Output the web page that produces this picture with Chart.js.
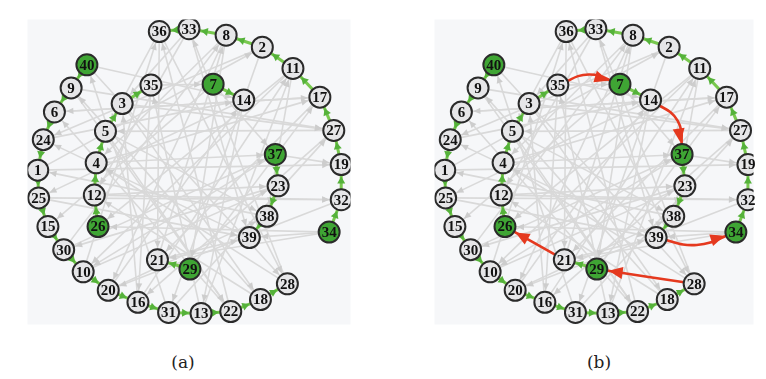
<!DOCTYPE html>
<html>
<head>
<meta charset="utf-8">
<script src="https://cdn.jsdelivr.net/npm/chart.js@4.4.1/dist/chart.umd.min.js"></script>
<style>
  html, body { margin: 0; padding: 0; background: #ffffff; }
  body { width: 766px; height: 379px; position: relative; overflow: hidden; }
  .panel { position: absolute; top: 7px; }
  .cap { position: absolute; top: 352px; font-family: "DejaVu Serif", "Liberation Serif", serif; font-size: 17px; color: #222; width: 60px; text-align: center; }
</style>
</head>
<body>
<div class="panel" style="left:15px;width:348px;height:330px"><canvas id="ga" width="348" height="330"></canvas></div>
<div class="panel" style="left:422px;width:344px;height:330px"><canvas id="gb" width="344" height="330"></canvas></div>
<div class="cap" style="left:153px">(a)</div>
<div class="cap" style="left:569px">(b)</div>
<script>
// Graph nodes and their layout positions
const nodeIds = [36, 33, 8, 2, 11, 17, 27, 19, 32, 34,
                 40, 9, 6, 24, 1, 25, 15, 30, 10, 20, 16, 31, 13, 22, 18, 28,
                 35, 3, 5, 4, 12, 26,
                 7, 14, 37, 23, 38, 39,
                 21, 29];
const nodeX = [157, 189, 229, 268, 301, 330, 345, 353, 353, 340,
               79, 62, 44, 32, 26, 27, 37, 54, 75, 102, 134, 167, 202, 234, 266, 295,
               148, 117, 99, 89, 87, 91,
               215, 248, 282, 285, 273, 254,
               155, 190];
const nodeY = [20, 17, 24, 37, 60, 91, 127, 164, 202, 237,
               56, 81, 107, 137, 170, 200, 231, 256, 280, 300, 313, 324, 325, 323, 310, 293,
               78, 98, 128, 162, 197, 231,
               77, 94, 153, 187, 220, 243,
               267, 277];

// Path heads (highlighted)
const sourceNodes = [40, 7, 37, 26, 29, 34];

// Directed paths of the cover
const coverPaths = [
  [40, 9, 6, 24, 1, 25, 15, 30, 10, 20, 16, 31, 13, 22, 18, 28],
  [26, 12, 4, 5, 3, 35],
  [7, 14],
  [37, 23, 38, 39],
  [29, 21],
  [34, 32, 19, 27, 17, 11, 2, 8, 33, 36]
];

// Remaining directed edges of the graph
const otherEdges = [
  [1, 19], [37, 19], [4, 37], [25, 32], [12, 23], [34, 39], [34, 26], [35, 7], [7, 37], [11, 26],
  [36, 5], [36, 21], [36, 28], [33, 12], [33, 39], [33, 3], [8, 4], [8, 29], [8, 20],
  [2, 31], [2, 24], [11, 38], [11, 10], [17, 21], [17, 6], [27, 5], [27, 16], [32, 20],
  [40, 14], [40, 28], [9, 27], [9, 22], [6, 17], [24, 14], [1, 2], [25, 39], [30, 37], [30, 8],
  [10, 23], [10, 36], [20, 14], [16, 11], [16, 3], [31, 40], [13, 35], [22, 36], [22, 6],
  [18, 12], [28, 4], [28, 33], [3, 18], [3, 27], [5, 22], [14, 25], [14, 13], [23, 30],
  [38, 1], [39, 24], [21, 8], [29, 17], [35, 16], [12, 32], [37, 10], [7, 15], [4, 17],
  [5, 38], [31, 27], [13, 11], [20, 38], [18, 9], [21, 39], [34, 21]
];

// Edges joining the paths into one cycle, with arc bend
const joinEdges = [[35, 7, -11], [14, 37, -14], [39, 34, 11], [28, 29, 0], [21, 26, 0]];

const NODE_R = 10.5;
const COLORS = {
  bg: '#f6f7f9',
  edge: '#d9d9d9',
  edgeHead: '#cdcdcd',
  path: '#78c84e',
  pathHead: '#55b23a',
  join: '#e5391f',
  nodeFill: '#e6e6e8',
  nodeSource: '#3fa534',
  nodeStroke: '#2b2b2b',
  label: '#111111'
};

function pos(id) {
  const i = nodeIds.indexOf(id);
  return { x: nodeX[i], y: nodeY[i] };
}

function buildChart(canvasId, xMin, xMax, withJoins) {
  const datasets = [];
  const heads = []; // arrowheads: [fromPoint, toPoint, color, len, half]

  datasets.push({
    label: 'nodes',
    data: nodeIds.map(id => pos(id)),
    pointRadius: NODE_R,
    pointBorderWidth: 2,
    pointBackgroundColor: nodeIds.map(id => sourceNodes.includes(id) ? COLORS.nodeSource : COLORS.nodeFill),
    pointBorderColor: COLORS.nodeStroke,
    showLine: false,
    order: 0
  });

  otherEdges.forEach(([a, b]) => {
    datasets.push({
      data: [pos(a), pos(b)], showLine: true, borderColor: COLORS.edge, borderWidth: 1.6,
      pointRadius: 0, order: 3
    });
    heads.push([pos(a), pos(b), COLORS.edgeHead, 7, 3.2]);
  });

  coverPaths.forEach(path => {
    for (let k = 0; k < path.length - 1; k++) {
      const a = path[k], b = path[k + 1];
      datasets.push({
        data: [pos(a), pos(b)], showLine: true, borderColor: COLORS.path, borderWidth: 3,
        pointRadius: 0, order: 2
      });
      heads.push([pos(a), pos(b), COLORS.pathHead, 7, 4]);
    }
  });

  if (withJoins) {
    joinEdges.forEach(([a, b, bend]) => {
      const s = pos(a), e = pos(b);
      const dx = e.x - s.x, dy = e.y - s.y, L = Math.hypot(dx, dy);
      const mid = { x: (s.x + e.x) / 2 - dy / L * bend, y: (s.y + e.y) / 2 + dx / L * bend };
      const pts = bend === 0 ? [s, e] : [s, mid, e];
      datasets.push({
        data: pts, showLine: true, borderColor: COLORS.join, borderWidth: 2.6,
        pointRadius: 0, tension: 0.45, order: 1
      });
      heads.push([bend === 0 ? s : mid, e, COLORS.join, 14, 6]);
    });
  }

  const graphPlugin = {
    id: 'graphDecor',
    beforeDraw(chart) {
      const { ctx, chartArea: ca } = chart;
      ctx.save();
      ctx.fillStyle = COLORS.bg;
      ctx.fillRect(ca.left, ca.top, ca.right - ca.left, ca.bottom - ca.top);
      ctx.restore();
    },
    beforeDatasetDraw(chart, args) {
      if (args.index !== 0) return;
      const { ctx, scales } = chart;
      ctx.save();
      heads.forEach(([from, to, color, len, half]) => {
        const fx = scales.x.getPixelForValue(from.x), fy = scales.y.getPixelForValue(from.y);
        const tx = scales.x.getPixelForValue(to.x), ty = scales.y.getPixelForValue(to.y);
        const d = Math.hypot(tx - fx, ty - fy);
        const ux = (tx - fx) / d, uy = (ty - fy) / d;
        const px = tx - ux * (NODE_R + 1.5), py = ty - uy * (NODE_R + 1.5);
        const bx = px - ux * len, by = py - uy * len;
        ctx.fillStyle = color;
        ctx.beginPath();
        ctx.moveTo(px, py);
        ctx.lineTo(bx - uy * half, by + ux * half);
        ctx.lineTo(bx + uy * half, by - ux * half);
        ctx.closePath();
        ctx.fill();
      });
      ctx.restore();
    },
    afterDatasetsDraw(chart) {
      const { ctx, scales } = chart;
      ctx.save();
      ctx.font = 'bold 15px "Liberation Serif", "DejaVu Serif", serif';
      ctx.textAlign = 'center';
      ctx.textBaseline = 'middle';
      ctx.fillStyle = COLORS.label;
      nodeIds.forEach(id => {
        const p = pos(id);
        ctx.fillText(String(id), scales.x.getPixelForValue(p.x), scales.y.getPixelForValue(p.y) + 1);
      });
      ctx.restore();
    }
  };

  return new Chart(document.getElementById(canvasId), {
    type: 'scatter',
    data: { datasets },
    options: {
      responsive: false,
      animation: false,
      events: [],
      layout: { padding: 0 },
      plugins: { legend: { display: false }, tooltip: { enabled: false } },
      scales: {
        x: { type: 'linear', min: xMin, max: xMax, display: false },
        y: { type: 'linear', min: 7, max: 337, reverse: true, display: false }
      }
    },
    plugins: [graphPlugin]
  });
}

buildChart('ga', 15, 363, false);
buildChart('gb', 15, 359, true);
</script>
</body>
</html>
